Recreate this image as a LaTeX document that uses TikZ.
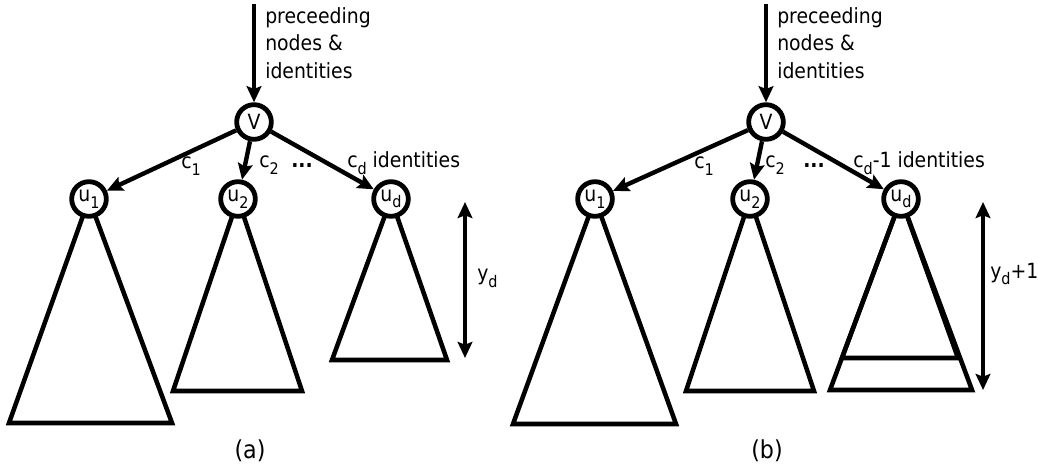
\documentclass[tikz,border=0pt]{standalone}
\usepackage{fontspec}
\setmainfont{DejaVu Sans Condensed}
\usetikzlibrary{arrows.meta,backgrounds}
\newcommand\mysub[1]{\raisebox{-0.55ex}{\fontsize{12}{12}\selectfont #1}}
\begin{document}
\begin{tikzpicture}[x=0.75pt,y=-0.75pt,
  every node/.style={font=\fontsize{15.7}{20.6}\selectfont},
  vert/.style={circle,draw,line width=3.6pt,fill=white,minimum size=26pt,inner sep=0pt},
  edge/.style={line width=3.3pt,-{Stealth[length=12pt,width=11pt,inset=2pt]}},
  tri/.style={line width=3.4pt,line join=miter},
  dim/.style={line width=3pt,{Stealth[length=12pt,width=11pt,inset=2pt]}-{Stealth[length=12pt,width=11pt,inset=2pt]}},
  lbl/.style={anchor=base west,inner sep=0pt},
  captext/.style={font=\fontsize{18.5}{22}\selectfont},
  toptext/.style={anchor=north west,inner sep=0pt,align=left}]
\useasboundingbox (0,0) rectangle (1038,470);

% ---------- (a) ----------
\node[vert] (va) at (254,122) {V};
\node[vert] (u1a) at (89,199) {u\mysub{1}};
\node[vert] (u2a) at (238,199) {u\mysub{2}};
\node[vert] (uda) at (391,199) {u\mysub{d}};
\begin{scope}[on background layer]
  \draw[tri] (u1a.center) -- (9,423) -- (172,423) -- cycle;
  \draw[tri] (u2a.center) -- (173,391) -- (302,391) -- cycle;
  \draw[tri] (uda.center) -- (332,360) -- (447,360) -- cycle;
\end{scope}
\coordinate (topa) at (254,4);
\draw[edge] (topa) -- (va);
\node[toptext] (ta) at (265,7) {preceeding\\nodes \&\\identities};
\draw[edge] (va) -- (u1a);
\draw[edge] (va) -- (u2a);
\draw[edge] (va) -- (uda);
\node[lbl] (c1a) at (181,169) {c\mysub{1}};
\node[lbl] (c2a) at (259,168) {c\mysub{2}};
\node[lbl] (dota) at (291,168) {\textbf{...}};
\node[lbl] (cda) at (347,168) {c\mysub{d} identities};
\coordinate (ya1) at (465,202);
\coordinate (ya2) at (465,358);
\draw[dim] (ya1) -- (ya2);
\node[lbl] (yla) at (477,281) {y\mysub{d}};
\node[captext] (capa) at (250,451) {(a)};

% ---------- (b) ----------
\node[vert] (vb) at (766,122) {V};
\node[vert] (u1b) at (595,199) {u\mysub{1}};
\node[vert] (u2b) at (750,199) {u\mysub{2}};
\node[vert] (udb) at (901,199) {u\mysub{d}};
\begin{scope}[on background layer]
  \draw[tri] (u1b.center) -- (513,424) -- (676,424) -- cycle;
  \draw[tri] (u2b.center) -- (686,391) -- (814,391) -- cycle;
  \draw[tri] (udb.center) -- (830,390) -- (972,390) -- cycle;
  \draw[tri] (udb.center) -- (842,358) -- (958,358) -- cycle;
\end{scope}
\coordinate (topb) at (766,4);
\draw[edge] (topb) -- (vb);
\node[toptext] (tb) at (777,7) {preceeding\\nodes \&\\identities};
\draw[edge] (vb) -- (u1b);
\draw[edge] (vb) -- (u2b);
\draw[edge] (vb) -- (udb);
\node[lbl] (c1b) at (694,169) {c\mysub{1}};
\node[lbl] (c2b) at (765,168) {c\mysub{2}};
\node[lbl] (dotb) at (803,168) {\textbf{...}};
\node[lbl] (cdb) at (853,168) {c\mysub{d}-1 identities};
\coordinate (yb1) at (983,202);
\coordinate (yb2) at (983,390);
\draw[dim] (yb1) -- (yb2);
\node[lbl] (ylb) at (990,278) {y\mysub{d}+1};
\node[captext] (capb) at (767,451) {(b)};
\end{tikzpicture}
\end{document}
